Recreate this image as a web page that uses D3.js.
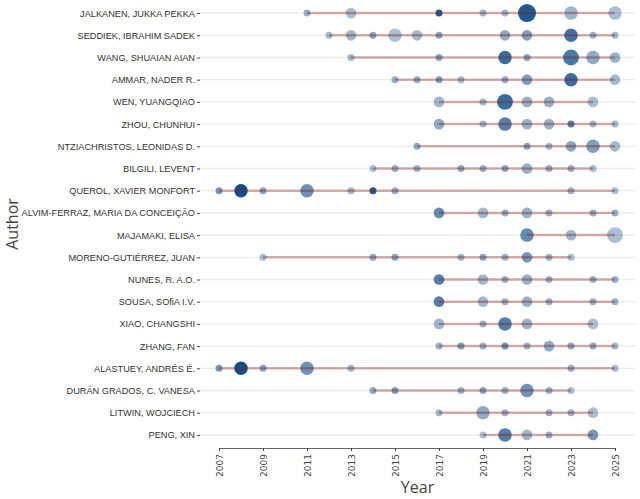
<!DOCTYPE html>
<html>
<head>
<meta charset="utf-8">
<script src="https://cdnjs.cloudflare.com/ajax/libs/d3/7.8.5/d3.min.js"></script>
<style>
  body { margin: 0; background: #fff; }
</style>
</head>
<body>
<svg id="chart" width="640" height="499"></svg>
<script>
// data: authors (top to bottom), and per author the years, article count and citations per year
var authors = ["JALKANEN, JUKKA PEKKA", "SEDDIEK, IBRAHIM SADEK", "WANG, SHUAIAN AIAN", "AMMAR, NADER R.",
  "WEN, YUANGQIAO", "ZHOU, CHUNHUI", "NTZIACHRISTOS, LEONIDAS D.", "BILGILI, LEVENT",
  "QUEROL, XAVIER MONFORT", "ALVIM-FERRAZ, MARIA DA CONCEIÇÃO", "MAJAMAKI, ELISA", "MORENO-GUTIÉRREZ, JUAN",
  "NUNES, R. A.O.", "SOUSA, SO\uFB01A I.V.", "XIAO, CHANGSHI", "ZHANG, FAN",
  "ALASTUEY, ANDRÉS É.", "DURÁN GRADOS, C. VANESA", "LITWIN, WOJCIECH", "PENG, XIN"]

var years = [
  [2011, 2013, 2017, 2019, 2020, 2021, 2023, 2025],
  [2012, 2013, 2014, 2015, 2016, 2017, 2020, 2021, 2023, 2024, 2025],
  [2013, 2017, 2020, 2021, 2023, 2024, 2025],
  [2015, 2016, 2017, 2018, 2020, 2021, 2023, 2025],
  [2017, 2019, 2020, 2021, 2022, 2024],
  [2017, 2019, 2020, 2021, 2022, 2023, 2024, 2025],
  [2016, 2021, 2022, 2023, 2024, 2025],
  [2014, 2015, 2016, 2018, 2019, 2020, 2021, 2022, 2023, 2024],
  [2007, 2008, 2009, 2011, 2013, 2014, 2015, 2023, 2025],
  [2017, 2019, 2020, 2021, 2022, 2024, 2025],
  [2021, 2023, 2025],
  [2009, 2014, 2015, 2018, 2019, 2020, 2021, 2022, 2023],
  [2017, 2019, 2020, 2021, 2022, 2024, 2025],
  [2017, 2019, 2020, 2021, 2022, 2024, 2025],
  [2017, 2019, 2020, 2021, 2024],
  [2017, 2018, 2019, 2020, 2021, 2022, 2023, 2024, 2025],
  [2007, 2008, 2009, 2011, 2013, 2023, 2025],
  [2014, 2015, 2018, 2019, 2020, 2021, 2022, 2023],
  [2017, 2019, 2020, 2022, 2023, 2024],
  [2019, 2020, 2021, 2022, 2024]
]

var freq = [
  [1, 2, 1, 1, 1, 5, 3, 3],
  [1, 2, 1, 3, 2, 1, 2, 2, 3, 1, 1],
  [1, 1, 3, 1, 4, 3, 2],
  [1, 1, 1, 1, 1, 2, 3, 2],
  [2, 1, 4, 2, 2, 2],
  [2, 1, 3, 2, 2, 1, 1, 1],
  [1, 1, 1, 2, 3, 2],
  [1, 1, 1, 1, 1, 1, 2, 1, 1, 1],
  [1, 3, 1, 3, 1, 1, 1, 1, 1],
  [2, 2, 1, 2, 1, 1, 1],
  [3, 2, 4],
  [1, 1, 1, 1, 1, 1, 2, 1, 1],
  [2, 2, 1, 2, 1, 1, 1],
  [2, 2, 1, 2, 1, 1, 1],
  [2, 1, 3, 2, 2],
  [1, 1, 1, 1, 1, 2, 1, 1, 1],
  [1, 3, 1, 3, 1, 1, 1],
  [1, 1, 1, 1, 1, 3, 1, 1],
  [1, 3, 1, 1, 1, 2],
  [1, 3, 2, 1, 2]
]

var tcpy = [
  [2, 1, 9, 1.5, 1.5, 9, 1.5, 1],
  [1.5, 1.5, 3, 0.8, 1.2, 3, 2.5, 3.5, 7, 2, 1.5],
  [1.5, 3, 7.5, 3, 6.5, 2.5, 2],
  [2, 2.5, 3.5, 1.5, 2.5, 3.5, 7.5, 1.2],
  [1.5, 1.5, 7.5, 2, 2, 1],
  [2.5, 1.5, 6, 2, 2, 6, 1.5, 1.5],
  [2.5, 3, 1.5, 3, 3.5, 1.2],
  [1, 2, 2, 2.5, 2, 3, 2, 2, 2, 1],
  [4, 10, 3, 4.5, 1.5, 9, 2.5, 2, 1],
  [5, 1.5, 2, 2, 2, 2, 2],
  [5, 1.5, 0.8],
  [1, 2.5, 3, 2, 3, 2, 4, 2, 1],
  [6, 1.5, 2, 2, 2, 2, 2],
  [6, 1.5, 2, 2, 2, 2, 2],
  [1.5, 2, 6, 2, 1],
  [2, 3.5, 2, 4.5, 2, 2.5, 2.5, 2.5, 1.5],
  [4, 10, 3, 4.5, 1.5, 2, 1],
  [2.5, 3.5, 2, 3, 2, 4.5, 2, 1],
  [1.5, 2.5, 2, 2, 2, 1],
  [1, 6, 1.5, 2, 4]
]

var xTicks = [2007, 2009, 2011, 2013, 2015, 2017, 2019, 2021, 2023, 2025]

// layout
var margin = { top: 0, right: 5, bottom: 51, left: 200 },
    width = 640 - margin.left - margin.right,
    height = 499 - margin.top - margin.bottom;

var svg = d3.select("#chart")
var g = svg.append("g").attr("transform", "translate(" + margin.left + "," + margin.top + ")")

var x = d3.scaleLinear().domain([2007, 2025]).range([19, 415])
var y = d3.scalePoint().domain(authors).range([0, height]).padding(0.59)
var size = d3.scaleSqrt().domain([1, 5]).range([3.5, 9])
var alpha = d3.scaleLinear().domain([0, 10]).range([0.3, 1])

// build rows
var rows = authors.map(function (a, i) {
  return {
    author: a,
    points: years[i].map(function (yr, j) {
      return { author: a, year: yr, freq: freq[i][j], tc: tcpy[i][j] }
    })
  }
})

// grid lines
g.append("g")
  .selectAll("line")
  .data(authors)
  .enter()
  .append("line")
  .attr("x1", 0)
  .attr("x2", width)
  .attr("y1", function (d) { return y(d) })
  .attr("y2", function (d) { return y(d) })
  .style("stroke", "#ebebeb")
  .style("stroke-width", 1.3)

// points
g.append("g")
  .selectAll("circle")
  .data(rows.flatMap(function (r) { return r.points }))
  .enter()
  .append("circle")
  .attr("cx", function (d) { return x(d.year) })
  .attr("cy", function (d) { return y(d.author) })
  .attr("r", function (d) { return size(d.freq) })
  .style("fill", "#104E8B")
  .style("fill-opacity", function (d) { return alpha(d.tc) })

// lines from first to last year, drawn over points
g.append("g")
  .selectAll("line")
  .data(rows)
  .enter()
  .append("line")
  .attr("x1", function (d) { return x(d3.min(d.points, function (p) { return p.year })) })
  .attr("x2", function (d) { return x(d3.max(d.points, function (p) { return p.year })) })
  .attr("y1", function (d) { return y(d.author) })
  .attr("y2", function (d) { return y(d.author) })
  .style("stroke", "#8B1A1A")
  .style("stroke-opacity", 0.35)
  .style("stroke-width", 2.5)

// axes
var yAxis = g.append("g")
  .call(d3.axisLeft(y).tickSize(3).tickPadding(2))
yAxis.select(".domain").remove()

var xAxis = g.append("g")
  .attr("transform", "translate(0," + height + ")")
  .call(d3.axisBottom(x).tickValues(xTicks).tickFormat(d3.format("d")).tickSize(3).tickSizeOuter(0))
xAxis.selectAll("text")
  .attr("transform", "rotate(-90)")
  .attr("text-anchor", "end")
  .attr("x", -6)
  .attr("y", 0)
  .attr("dy", "0.35em")

svg.selectAll(".tick text")
  .style("font-family", "DejaVu Sans, Verdana, sans-serif")
  .style("font-size", "9px")
  .style("fill", "#444")
yAxis.selectAll(".tick text")
  .style("font-family", "Liberation Sans, Arial, sans-serif")
  .style("font-size", "9.2px")
  .style("fill", "#333")
svg.selectAll(".tick line").style("stroke", "#444")
xAxis.select(".domain").style("stroke", "#666")

// titles
svg.append("text")
  .attr("x", margin.left + width / 2)
  .attr("y", 493)
  .attr("text-anchor", "middle")
  .style("font-family", "Open Sans, sans-serif")
  .style("font-size", "16px")
  .style("fill", "#444")
  .text("Year")

svg.append("text")
  .attr("transform", "rotate(-90)")
  .attr("x", -(margin.top + height / 2))
  .attr("y", 18)
  .attr("text-anchor", "middle")
  .style("font-family", "Open Sans, sans-serif")
  .style("font-size", "16px")
  .style("fill", "#444")
  .text("Author")
</script>
</body>
</html>
